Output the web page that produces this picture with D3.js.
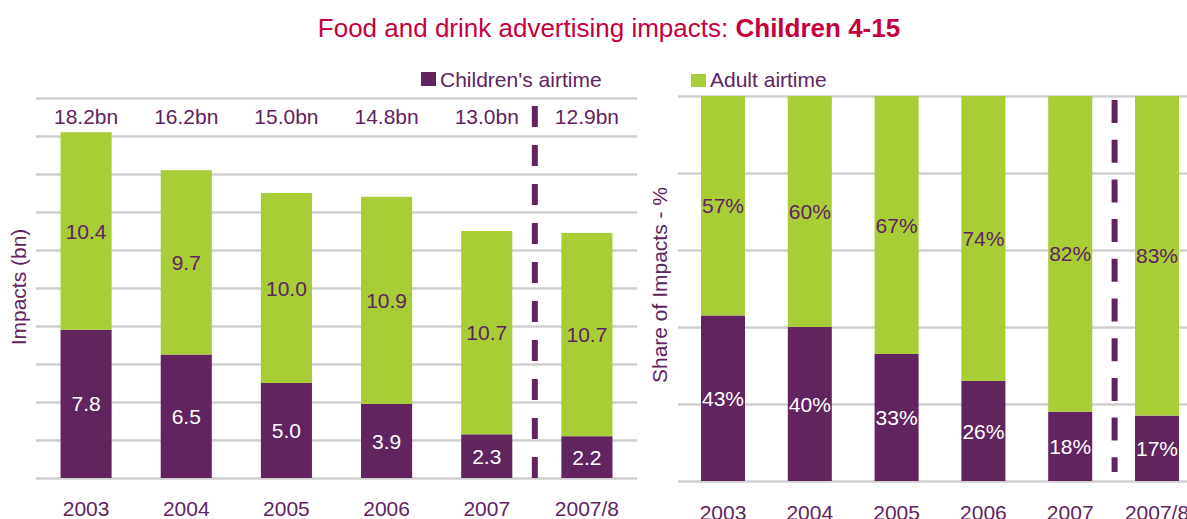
<!DOCTYPE html>
<html>
<head>
<meta charset="utf-8">
<script src="https://cdn.jsdelivr.net/npm/d3@7"></script>
<style>
  body { margin: 0; background: #fff; }
  svg text { font-family: "Liberation Sans", Arial, sans-serif; }
</style>
</head>
<body>
<div id="chart"></div>
<script>
// data
var years = ["2003", "2004", "2005", "2006", "2007", "2007/8"];
var childImpacts = [7.8, 6.5, 5.0, 3.9, 2.3, 2.2];
var adultImpacts = [10.4, 9.7, 10.0, 10.9, 10.7, 10.7];
var totalLabels = ["18.2bn", "16.2bn", "15.0bn", "14.8bn", "13.0bn", "12.9bn"];
var childShare = [43, 40, 33, 26, 18, 17];
var adultShare = [57, 60, 67, 74, 82, 83];
var leftTicks = [0, 2, 4, 6, 8, 10, 12, 14, 16, 18, 20];
var rightTicks = [0, 20, 40, 60, 80, 100];

var W = 1187, H = 519;
var purple = "#62245f", green = "#a8cd37", textPurple = "#5f2360", grid = "#cfcfcf";

var svg = d3.select("#chart").append("svg")
    .attr("width", W)
    .attr("height", H);

// title
var title = svg.append("text")
    .attr("x", 609)
    .attr("y", 37)
    .attr("text-anchor", "middle")
    .attr("fill", "#c6003f")
    .style("font-size", "26px");
title.append("tspan").text("Food and drink advertising impacts: ");
title.append("tspan").style("font-weight", "bold").text("Children 4-15");

/////////////// left chart ///////////////
var xL = d3.scaleBand().domain(years).range([36, 637]).paddingInner(0.49).paddingOuter(0.245),
    yL = d3.scaleLinear().domain([0, 20]).range([478, 98]);

var gL = svg.append("g");

gL.append("g")
    .attr("class", "grid")
    .attr("transform", "translate(36,0)")
    .call(d3.axisLeft(yL).tickValues(leftTicks).tickFormat("").tickSizeInner(-601).tickSizeOuter(0))
    .call(function(g) { g.select(".domain").remove(); })
    .selectAll("line").attr("stroke", grid).attr("stroke-width", 2.5);

gL.selectAll(".barC")
    .data(years)
  .enter().append("rect")
    .attr("x", function(d) { return xL(d); })
    .attr("y", function(d, i) { return yL(childImpacts[i]); })
    .attr("width", xL.bandwidth())
    .attr("height", function(d, i) { return yL(0) - yL(childImpacts[i]); })
    .attr("fill", purple);

gL.selectAll(".barA")
    .data(years)
  .enter().append("rect")
    .attr("x", function(d) { return xL(d); })
    .attr("y", function(d, i) { return yL(childImpacts[i] + adultImpacts[i]); })
    .attr("width", xL.bandwidth())
    .attr("height", function(d, i) { return yL(childImpacts[i]) - yL(childImpacts[i] + adultImpacts[i]); })
    .attr("fill", green);

gL.selectAll(".lblC")
    .data(years)
  .enter().append("text")
    .attr("x", function(d) { return xL(d) + xL.bandwidth() / 2; })
    .attr("y", function(d, i) { return (yL(0) + yL(childImpacts[i])) / 2; })
    .attr("dy", "0.36em")
    .attr("text-anchor", "middle")
    .attr("fill", "#fff")
    .style("font-size", "21px")
    .text(function(d, i) { return childImpacts[i].toFixed(1); });

gL.selectAll(".lblA")
    .data(years)
  .enter().append("text")
    .attr("x", function(d) { return xL(d) + xL.bandwidth() / 2; })
    .attr("y", function(d, i) { return (yL(childImpacts[i]) + yL(childImpacts[i] + adultImpacts[i])) / 2; })
    .attr("dy", "0.36em")
    .attr("text-anchor", "middle")
    .attr("fill", textPurple)
    .style("font-size", "21px")
    .text(function(d, i) { return adultImpacts[i].toFixed(1); });

gL.selectAll(".lblT")
    .data(years)
  .enter().append("text")
    .attr("x", function(d) { return xL(d) + xL.bandwidth() / 2; })
    .attr("y", 124)
    .attr("text-anchor", "middle")
    .attr("fill", textPurple)
    .style("font-size", "21px")
    .text(function(d, i) { return totalLabels[i]; });

var dashL = (xL("2007") + xL("2007/8") + xL.bandwidth()) / 2 - 2;
gL.append("line")
    .attr("x1", dashL).attr("x2", dashL)
    .attr("y1", 106).attr("y2", 478)
    .attr("stroke", purple)
    .attr("stroke-width", 6)
    .attr("stroke-dasharray", "21 18");

gL.append("g")
    .attr("transform", "translate(0,478)")
    .call(d3.axisBottom(xL).tickSize(0).tickPadding(23.5))
    .call(function(g) { g.select(".domain").remove(); })
    .selectAll("text")
    .attr("fill", textPurple)
    .style("font-size", "21px")
    .style("font-family", "'Liberation Sans', Arial, sans-serif");

gL.append("text")
    .attr("transform", "translate(26,287) rotate(-90)")
    .attr("text-anchor", "middle")
    .attr("fill", textPurple)
    .style("font-size", "21px")
    .text("Impacts (bn)");

gL.append("rect").attr("x", 421).attr("y", 72).attr("width", 15).attr("height", 14).attr("fill", purple);
gL.append("text").attr("x", 440).attr("y", 87).attr("fill", textPurple).style("font-size", "21px").text("Children's airtime");

/////////////// right chart ///////////////
var xR = d3.scaleBand().domain(years).range([678, 1202]).paddingInner(0.493).paddingOuter(0.265),
    yR = d3.scaleLinear().domain([0, 100]).range([481, 96]);

var gR = svg.append("g");

gR.append("g")
    .attr("class", "grid")
    .attr("transform", "translate(678,0)")
    .call(d3.axisLeft(yR).tickValues(rightTicks).tickFormat("").tickSizeInner(-(W - 678)).tickSizeOuter(0))
    .call(function(g) { g.select(".domain").remove(); })
    .selectAll("line").attr("stroke", grid).attr("stroke-width", 2.5);

gR.selectAll(".barC")
    .data(years)
  .enter().append("rect")
    .attr("x", function(d) { return xR(d); })
    .attr("y", function(d, i) { return yR(childShare[i]); })
    .attr("width", xR.bandwidth())
    .attr("height", function(d, i) { return yR(0) - yR(childShare[i]); })
    .attr("fill", purple);

gR.selectAll(".barA")
    .data(years)
  .enter().append("rect")
    .attr("x", function(d) { return xR(d); })
    .attr("y", function(d, i) { return yR(childShare[i] + adultShare[i]); })
    .attr("width", xR.bandwidth())
    .attr("height", function(d, i) { return yR(childShare[i]) - yR(childShare[i] + adultShare[i]); })
    .attr("fill", green);

gR.selectAll(".lblC")
    .data(years)
  .enter().append("text")
    .attr("x", function(d) { return xR(d) + xR.bandwidth() / 2; })
    .attr("y", function(d, i) { return (yR(0) + yR(childShare[i])) / 2; })
    .attr("dy", "0.36em")
    .attr("text-anchor", "middle")
    .attr("fill", "#fff")
    .style("font-size", "21px")
    .text(function(d, i) { return childShare[i] + "%"; });

gR.selectAll(".lblA")
    .data(years)
  .enter().append("text")
    .attr("x", function(d) { return xR(d) + xR.bandwidth() / 2; })
    .attr("y", function(d, i) { return (yR(childShare[i]) + yR(childShare[i] + adultShare[i])) / 2; })
    .attr("dy", "0.36em")
    .attr("text-anchor", "middle")
    .attr("fill", textPurple)
    .style("font-size", "21px")
    .text(function(d, i) { return adultShare[i] + "%"; });

var dashR = (xR("2007") + xR("2007/8") + xR.bandwidth()) / 2 + 1;
gR.append("line")
    .attr("x1", dashR).attr("x2", dashR)
    .attr("y1", 100).attr("y2", 472)
    .attr("stroke", purple)
    .attr("stroke-width", 6)
    .attr("stroke-dasharray", "23 16.7");

gR.append("g")
    .attr("transform", "translate(0,481)")
    .call(d3.axisBottom(xR).tickSize(0).tickPadding(24))
    .call(function(g) { g.select(".domain").remove(); })
    .selectAll("text")
    .attr("fill", textPurple)
    .style("font-size", "21px")
    .style("font-family", "'Liberation Sans', Arial, sans-serif");

gR.append("text")
    .attr("transform", "translate(667,285) rotate(-90)")
    .attr("text-anchor", "middle")
    .attr("fill", textPurple)
    .style("font-size", "21px")
    .text("Share of Impacts - %");

gR.append("rect").attr("x", 691).attr("y", 74).attr("width", 15).attr("height", 13).attr("fill", green);
gR.append("text").attr("x", 710).attr("y", 87).attr("fill", textPurple).style("font-size", "21px").text("Adult airtime");
</script>
</body>
</html>
